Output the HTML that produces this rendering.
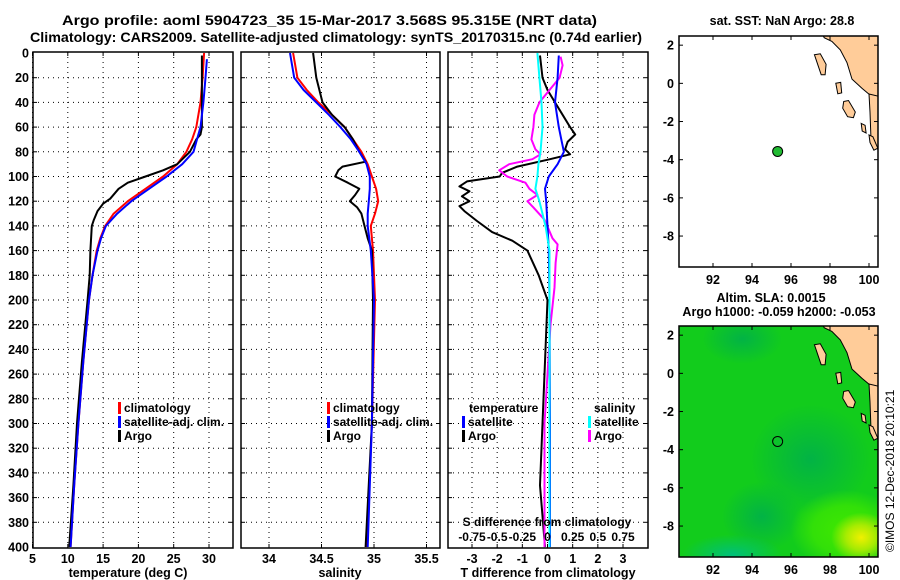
<!DOCTYPE html>
<html><head><meta charset="utf-8"><style>
html,body{margin:0;padding:0;background:#fff;}
svg{display:block;font-family:"Liberation Sans",sans-serif;font-weight:bold;}
</style></head><body>
<svg id="fig" width="900" height="580" viewBox="0 0 900 580">
<text x="62" y="25" font-size="14" textLength="535" lengthAdjust="spacingAndGlyphs">Argo profile: aoml 5904723_35 15-Mar-2017 3.568S 95.315E (NRT data)</text>
<text x="30" y="42" font-size="14" textLength="612" lengthAdjust="spacingAndGlyphs">Climatology: CARS2009. Satellite-adjusted climatology: synTS_20170315.nc (0.74d earlier)</text>
<g id="maps"></g>
<g id="panels"></g>
<text x="0" y="0" font-size="12" font-weight="normal" transform="translate(894,552) rotate(-90)">©IMOS 12-Dec-2018 20:10:21</text>
</svg>
<script>
// ---------- data ----------
const depthTicks=[0,20,40,60,80,100,120,140,160,180,200,220,240,260,280,300,320,340,360,380,400];
const tTicks=[5,10,15,20,25,30];
const sTicks=[34,34.5,35,35.5];
const dTTicks=[-3,-2,-1,0,1,2,3];
const dSTickLabels=["-0.75","-0.5","-0.25","0","0.25","0.5","0.75"];
const dSTicks=[-0.75,-0.5,-0.25,0,0.25,0.5,0.75];

const climTD=[0,20,40,60,70,80,90,100,110,120,130,140,150,160,180,200,250,300,350,400];
const climT=[29.3,29.1,28.8,28.2,27.6,26.8,25.5,23.5,21,18.5,16.5,15.3,14.6,14.1,13.5,13,12.2,11.5,10.9,10.4];
const satTD=[5,20,40,60,70,80,90,100,110,120,130,140,150,160,180,200,250,300,350,400];
const satT=[29.7,29.5,29.2,28.8,28.3,27.8,26.2,24,21.5,19,17,15.4,14.7,14.2,13.5,13,12.2,11.5,10.9,10.4];
const argoTD=[2,40,60,66,70,80,90,95,100,105,110,118,122,128,135,140,160,180,200,250,300,350,400];
const argoT=[29,29,29,28.8,28.2,27.3,25.5,23.5,21,18.5,17.2,16,15,14.2,13.7,13.4,13.2,13.1,12.8,12,11.3,10.8,10.2];

const climSD=[0,20,30,40,50,60,70,80,90,100,110,120,130,140,160,200,300,400];
const climS=[34.23,34.27,34.36,34.47,34.6,34.72,34.8,34.88,34.94,34.98,35.02,35.04,35.01,34.97,34.99,35.01,34.98,34.93];
const satSD=[0,20,30,40,50,60,70,80,90,100,110,120,130,140,160,200,300,400];
const satS=[34.2,34.24,34.33,34.45,34.57,34.68,34.78,34.86,34.93,34.96,34.96,34.95,34.94,34.94,34.97,35.0,34.98,34.94];
const argoSD=[0,20,40,50,60,70,80,88,92,95,100,105,110,115,120,125,130,140,150,160,200,300,400];
const argoS=[34.42,34.45,34.51,34.6,34.72,34.8,34.86,34.92,34.7,34.66,34.63,34.75,34.86,34.82,34.77,34.84,34.88,34.91,34.94,34.98,34.99,34.98,34.92];

const dTsatD=[2,20,40,60,70,80,90,100,110,120,140,160,200,300,400];
const dTsat=[0.45,0.4,0.3,0.45,0.55,0.65,0.4,0.05,-0.1,-0.05,0,0.05,0.08,0.1,0.1];
const dTargoD=[2,20,30,40,50,60,66,72,78,82,86,92,97,100,104,108,112,116,120,124,128,136,145,152,160,180,200,250,300,350,400];
const dTargo=[-0.3,-0.2,0,0.3,0.6,0.9,1.1,0.8,0.7,0.9,0.1,-1.2,-1.8,-1.9,-3.2,-3.5,-3.1,-3.4,-3.1,-3.5,-3.3,-2.8,-2.2,-1.4,-0.8,-0.35,0,-0.1,-0.2,-0.3,-0.1];
const dSsatD=[0,20,40,60,80,90,100,110,120,140,160,200,300,400];
const dSsat=[-0.1,-0.08,-0.06,-0.05,-0.07,-0.09,-0.1,-0.12,-0.08,-0.02,0.02,0.02,0.02,0.02];
const dSargoD=[3,10,20,30,40,50,60,70,78,82,86,90,95,100,105,110,115,120,125,135,150,155,170,190,220,300,400];
const dSargo=[0.13,0.15,0.12,0.02,-0.08,-0.13,-0.14,-0.16,-0.12,-0.07,-0.15,-0.38,-0.48,-0.4,-0.22,-0.18,-0.1,-0.2,-0.14,-0.03,0.05,0.1,0.08,0.07,0.03,-0.03,-0.03];

const floatLon=95.315, floatLat=-3.568;
const mapLonTicks=[92,94,96,98,100];
const mapLatTicks=[2,0,-2,-4,-6,-8];

// ---------- helpers ----------
const NS="http://www.w3.org/2000/svg";
function mk(tag,attrs,parent){const e=document.createElementNS(NS,tag);for(const k in attrs)e.setAttribute(k,attrs[k]);parent.appendChild(e);return e;}
const P=document.getElementById('panels');
const Y0=53,Y1=547,PT=52,PB=548;
function yD(d){return Y0+(Y1-Y0)*d/400;}
function lin(a,b,pa,pb){return v=>pa+(v-a)*(pb-pa)/(b-a);}

const panels=[
 {name:'temperature-panel',x0:33,x1:233,sc:lin(5,30,32.5,209)},
 {name:'salinity-panel',x0:241,x1:440,sc:lin(34,35,269,374)},
 {name:'difference-panel',x0:448,x1:648,sc:lin(-3,3,472,623)}
];
panels.forEach((p,i)=>{
 const g=mk('g',{},P);
 
 
 p.g=g;
 depthTicks.forEach(d=>{if(d===0||d===400)return;
  const l=mk('line',{x1:p.x0,x2:p.x1,y1:yD(d),y2:yD(d),stroke:'#000','stroke-width':1,'stroke-dasharray':'1,4'},g);
  
  mk('line',{x1:p.x0,x2:p.x0+4,y1:yD(d),y2:yD(d),stroke:'#000'},g);
  mk('line',{x1:p.x1-4,x2:p.x1,y1:yD(d),y2:yD(d),stroke:'#000'},g);
 });
 const xt=i===0?tTicks:i===1?sTicks:dTTicks;
 xt.forEach(v=>{const x=p.sc(v);
  const l=mk('line',{x1:x,x2:x,y1:PT,y2:PB,stroke:'#000','stroke-width':1,'stroke-dasharray':'1,4'},g);
  
  mk('line',{x1:x,x2:x,y1:PB-4,y2:PB,stroke:'#000'},g);
  mk('line',{x1:x,x2:x,y1:PT,y2:PT+4,stroke:'#000'},g);
  const t=mk('text',{x:x,y:563,'font-size':12.5,'text-anchor':'middle'},g);t.textContent=String(v);
  
 });
 const f=mk('rect',{x:p.x0,y:PT,width:p.x1-p.x0,height:PB-PT,fill:'none',stroke:'#000','stroke-width':1.5},g);
 
});
depthTicks.forEach(d=>{const t=mk('text',{x:29,y:yD(d)+4.5,'font-size':12.5,'text-anchor':'end'},P);t.textContent=String(d);
 });

function series(p,vals,deps,color,name,sc){
 const s=sc||p.sc;
 const pts=vals.map((v,k)=>s(v).toFixed(1)+','+yD(deps[k]).toFixed(1)).join(' ');
 const e=mk('polyline',{points:pts,fill:'none',stroke:color,'stroke-width':2,'stroke-linejoin':'round'},p.g);
 
}
const [pT,pS,pD]=panels;
series(pT,climT,climTD,'#ff0000','climatology-temperature-line');
series(pT,argoT,argoTD,'#000000','argo-temperature-line');
series(pT,satT,satTD,'#0000ff','satellite-temperature-line');
series(pS,climS,climSD,'#ff0000','climatology-salinity-line');
series(pS,argoS,argoSD,'#000000','argo-salinity-line');
series(pS,satS,satSD,'#0000ff','satellite-salinity-line');
const sS=lin(-0.75,0.75,472,623);
series(pD,dTargo,dTargoD,'#000000','argo-t-difference-line');
series(pD,dSargo,dSargoD,'#ff00ff','argo-s-difference-line',sS);
series(pD,dTsat,dTsatD,'#0000ff','satellite-t-difference-line');
series(pD,dSsat,dSsatD,'#00ffff','satellite-s-difference-line',sS);

function txt(x,y,s,size,anchor,name,parent){const t=mk('text',{x:x,y:y,'font-size':size,'text-anchor':anchor||'start'},parent||P);t.textContent=s;
 return t;}
function legend(x,y,color,label,name){const g=mk('g',{},P);
 mk('rect',{x:x,y:y-10,width:3,height:12,fill:color},g);txt(x+6,y,label,12,'start',name+'-label',g);}
[[118,'climatology','#ff0000'],[118,'satellite-adj. clim.','#0000ff'],[118,'Argo','#000']].forEach((r,k)=>{
 legend(r[0],412+k*14,r[2],r[1],'legend-t-'+k);legend(r[0]+209,412+k*14,r[2],r[1],'legend-s-'+k);});
txt(469,412,'temperature',12,'start','legend-temperature-header');
txt(594,412,'salinity',12,'start','legend-salinity-header');
legend(462,426,'#0000ff','satellite','legend-dt-satellite');
legend(462,440,'#000','Argo','legend-dt-argo');
legend(588,426,'#00ffff','satellite','legend-ds-satellite');
legend(588,440,'#ff00ff','Argo','legend-ds-argo');
txt(547,526,'S difference from climatology',12,'middle','s-difference-axis-title');
dSTicks.forEach((v,k)=>txt(sS(v),541,dSTickLabels[k],12,'middle','s-tick-label'));
txt(128,577,'temperature (deg C)',12.5,'middle','temperature-axis-title');
txt(340,577,'salinity',12.5,'middle','salinity-axis-title');
txt(548,577,'T difference from climatology',12.5,'middle','t-difference-axis-title');

// ---------- maps ----------
const M=document.getElementById('maps');
function drawMap(top,bottom,filled,name,title){
 const g=mk('g',{},M);
 const x0=679,x1=878;
 const lx=lin(92,100,713,869), ly=lin(2,-8,top+(bottom-top)*0.0397,top+(bottom-top)*0.866);
 const id='clip'+name;
 const cp=mk('clipPath',{id:id},g);mk('rect',{x:x0,y:top,width:x1-x0,height:bottom-top},cp);
 const inner=mk('g',{'clip-path':'url(#'+id+')'},g);
 if(filled){
  const defs=mk('defs',{},g);
  const mkR=(gid,c,stops)=>{const r=mk('radialGradient',{id:gid},defs);stops.forEach(s=>mk('stop',{offset:s[0],'stop-color':c,'stop-opacity':s[1]},r));};
  mkR('gy','#f0f000',[[0,1],[0.5,0.6],[1,0]]);
  mkR('gl','#40e800',[[0,1],[0.6,0.7],[1,0]]);
  mkR('gd','#00b04a',[[0,0.9],[1,0]]);
  mkR('gt','#00c07a',[[0,1],[1,0]]);
  mk('rect',{x:x0,y:top,width:x1-x0,height:bottom-top,fill:'#12cc1c'},inner);
  mk('ellipse',{cx:lx(97),cy:ly(-4.5),rx:60,ry:55,fill:'url(#gd)'},inner);
  mk('ellipse',{cx:lx(94.5),cy:ly(-7.5),rx:40,ry:35,fill:'url(#gd)'},inner);
  mk('ellipse',{cx:lx(93.5),cy:ly(1.8),rx:40,ry:25,fill:'url(#gd)'},inner);
  mk('ellipse',{cx:lx(93),cy:ly(-9.5),rx:50,ry:20,fill:'url(#gt)'},inner);
  mk('ellipse',{cx:lx(98.8),cy:ly(-8.2),rx:55,ry:40,fill:'url(#gl)'},inner);
  mk('ellipse',{cx:lx(99.6),cy:ly(-8.6),rx:30,ry:25,fill:'url(#gy)'},inner);
 }
 const land='#ffcc99';
 const poly=(pts,nm)=>{const e=mk('polygon',{points:pts.map(p=>lx(p[0]).toFixed(1)+','+ly(p[1]).toFixed(1)).join(' '),fill:land,stroke:'#000','stroke-width':1},inner);
  };
 poly([[97.6,2.6],[97.7,2.39],[98.1,2.2],[98.53,1.75],[98.87,1.08],[99.13,0.22],[99.65,-0.27],[99.99,-0.56],[100.42,-0.94],[100.7,-1],[100.7,2.6]],'sumatra-coast');
 poly([[100.0,-0.56],[100.6,-0.7],[100.6,-3.6],[100.3,-3.3],[100.1,-2.8],[100.05,-1.5]],'sumatra-coast-south');
 poly([[97.2,1.5],[97.5,1.55],[97.8,1.0],[97.75,0.45],[97.55,0.45],[97.4,0.9]],'simeulue-island');
 poly([[98.7,-0.95],[98.95,-0.9],[99.3,-1.5],[99.2,-1.8],[98.9,-1.75],[98.65,-1.3]],'nias-island');
 poly([[98.3,0.0],[98.55,0.05],[98.6,-0.5],[98.4,-0.55]],'small-island');
 poly([[99.6,-2.1],[99.8,-2.2],[99.85,-2.6],[99.65,-2.5]],'siberut-island');
 poly([[100.0,-2.7],[100.2,-2.8],[100.45,-3.4],[100.25,-3.5],[100.05,-3.1]],'sipora-island');
 const dot=mk('circle',{cx:lx(floatLon),cy:ly(floatLat),r:5,fill:filled?'none':'#22bb33',stroke:'#000','stroke-width':1},g);
 
 const f=mk('rect',{x:x0,y:top,width:x1-x0,height:bottom-top,fill:'none',stroke:'#000','stroke-width':1.5},g);
 
 mapLonTicks.forEach(v=>{const x=lx(v);mk('line',{x1:x,x2:x,y1:bottom-4,y2:bottom,stroke:'#000'},g);mk('line',{x1:x,x2:x,y1:top,y2:top+4,stroke:'#000'},g);
  txt(x,bottom+17,String(v),12.5,'middle','map-lon-label',g);});
 mapLatTicks.forEach(v=>{const y=ly(v);mk('line',{x1:x1-4,x2:x1,y1:y,y2:y,stroke:'#000'},g);mk('line',{x1:x0,x2:x0+4,y1:y,y2:y,stroke:'#000'},g);
  txt(674,y+4.5,String(v),12.5,'end','map-lat-label',g);});
 title.forEach(t=>txt(t[0],t[1],t[2],12.5,'middle','map-title',g));
}
drawMap(36,267,false,'sst-map',[[782,25,'sat. SST: NaN Argo: 28.8']]);
drawMap(326,557,true,'sla-map',[[771,302,'Altim. SLA: 0.0015'],[779,316,'Argo h1000: -0.059 h2000: -0.053']]);
</script>
</body></html>
